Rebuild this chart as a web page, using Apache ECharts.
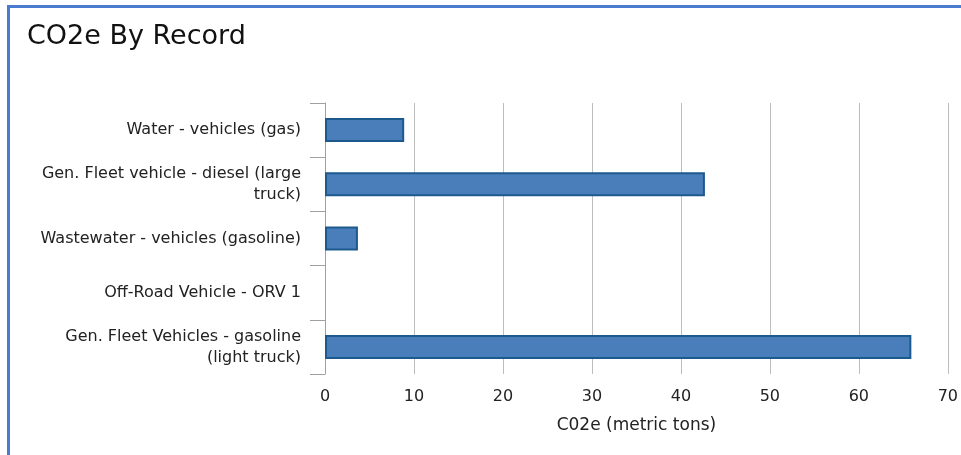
<!DOCTYPE html>
<html>
<head>
<meta charset="utf-8">
<script src="https://cdn.jsdelivr.net/npm/echarts@6/dist/echarts.min.js"></script>
<style>
html,body{margin:0;padding:0;background:#fff;}
#frame{position:absolute;left:7px;top:5px;width:954px;height:450px;border-top:3px solid #4a7bd0;border-left:3px solid #4a7bd0;box-sizing:border-box;}
#chart{position:absolute;left:0;top:0;width:961px;height:455px;}
</style>
</head>
<body>
<div id="frame"></div>
<div id="chart"></div>
<script>
const titleText = 'CO2e By Record';
const axisName = 'C02e (metric tons)';
const categories = [
  'Water - vehicles (gas)',
  'Gen. Fleet vehicle - diesel (large truck)',
  'Wastewater - vehicles (gasoline)',
  'Off-Road Vehicle - ORV 1',
  'Gen. Fleet Vehicles - gasoline (light truck)'
];
const values = [8.9, 42.7, 3.7, 0, 65.9];
const xTicks = [0, 10, 20, 30, 40, 50, 60, 70];

const font = 'DejaVu Sans';
const ctx = document.createElement('canvas').getContext('2d');
ctx.font = '16px "DejaVu Sans"';
function wrap(text, maxW) {
  const words = text.split(' ');
  const lines = [];
  let cur = '';
  for (const w of words) {
    const t = cur ? cur + ' ' + w : w;
    if (cur && ctx.measureText(t).width > maxW) { lines.push(cur); cur = w; }
    else cur = t;
  }
  if (cur) lines.push(cur);
  return lines.join('\n');
}

const chart = echarts.init(document.getElementById('chart'));
chart.setOption({
  animation: false,
  backgroundColor: 'transparent',
  title: {
    text: titleText, left: 22, top: 18,
    textStyle: {fontFamily: font, fontSize: 27, fontWeight: 'normal', color: '#111'}
  },
  grid: {left: 325, right: 8, top: 103, bottom: 81, containLabel: false},
  xAxis: {
    type: 'value', min: xTicks[0], max: xTicks[xTicks.length - 1], interval: 10,
    name: axisName, nameLocation: 'middle', nameGap: 43,
    nameTextStyle: {fontFamily: font, fontSize: 17, color: '#222'},
    axisLine: {show: false}, axisTick: {show: false},
    axisLabel: {fontFamily: font, fontSize: 16, color: '#222', margin: 15},
    splitLine: {show: true, lineStyle: {color: '#bdbdbd', width: 1}}
  },
  yAxis: {
    type: 'category', data: categories, inverse: true,
    axisLine: {show: true, lineStyle: {color: '#a0a0a0', width: 1}},
    axisTick: {show: true, length: 15, lineStyle: {color: '#a0a0a0'}},
    axisLabel: {fontFamily: font, fontSize: 16, color: '#222', margin: 24,
      align: 'right', lineHeight: 21, formatter: v => wrap(v, 270)},
    splitLine: {show: false}
  },
  series: [{
    type: 'bar', barWidth: 24,
    data: values.map(v => ({value: v, itemStyle: {borderWidth: v === 0 ? 0 : 2}})),
    itemStyle: {color: '#4a7ebb', borderColor: '#1c5a8e', borderWidth: 2}
  }]
});
</script>
</body>
</html>
